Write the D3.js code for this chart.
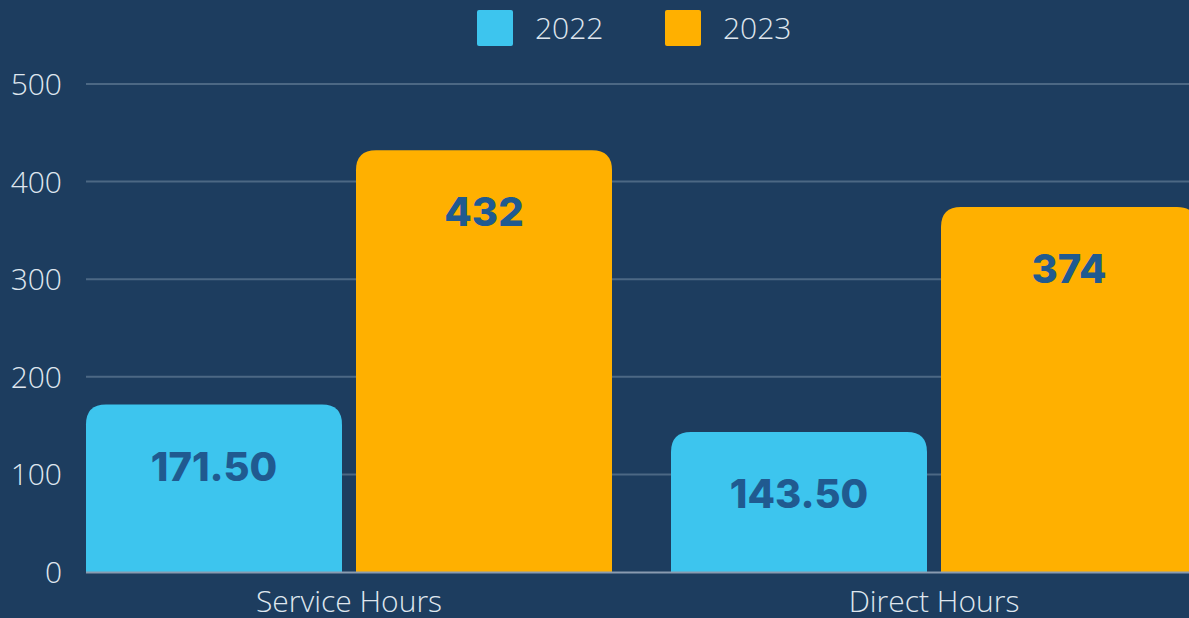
<!DOCTYPE html>
<html><head><meta charset="utf-8">
<script src="https://cdn.jsdelivr.net/npm/d3@7"></script>
<style>
html,body{margin:0;padding:0;background:#1d3d5f;overflow:hidden;}
</style></head>
<body><svg id="c" width="1189" height="618"></svg>
<script>
const categories = ["Service Hours", "Direct Hours"];
const seriesNames = ["2022", "2023"];
const values2022 = [171.5, 143.5];
const values2023 = [432, 374];
const labels2022 = ["171.50", "143.50"];
const labels2023 = ["432", "374"];
const yTicks = [0, 100, 200, 300, 400, 500];
const colors = ["#3dc5ee", "#ffb000"];

(function () {
const svg = d3.select("#c");
const W = 1189, H = 618;
svg.append("rect").attr("width", W).attr("height", H).attr("fill", "#1d3d5f");

const plotLeft = 86, plotBottom = 572, plotTop = 84;
const y = d3.scaleLinear().domain([0, 500]).range([plotBottom, plotTop]);
const x0 = d3.scaleBand().domain(categories).range([plotLeft, plotLeft + 585 + 526]).paddingInner(59 / 585).paddingOuter(0);
const x1 = d3.scaleBand().domain(seriesNames).range([0, x0.bandwidth()]).paddingInner(14 / 270);

// grid
svg.append("g").selectAll("line").data(yTicks.filter(d => d > 0)).join("line")
  .attr("x1", plotLeft).attr("x2", W).attr("y1", d => y(d)).attr("y2", d => y(d))
  .attr("stroke", "#4c6884").attr("stroke-width", 2);

// y labels
const yAxis = d3.axisLeft(y).tickValues(yTicks).tickSize(0).tickPadding(0);
const ga = svg.append("g").attr("transform", `translate(62,0)`).call(yAxis);
ga.select(".domain").remove();
ga.selectAll("text").attr("fill", "#dfe6ee").attr("font-family", "Open Sans").attr("font-weight", 300).attr("font-size", 30).attr("dy", "0.35em");

// bars
const data = [];
categories.forEach((c, i) => {
  data.push({cat: c, s: "2022", v: values2022[i], lab: labels2022[i], col: colors[0]});
  data.push({cat: c, s: "2023", v: values2023[i], lab: labels2023[i], col: colors[1]});
});
const r = 20;
function barPath(x, w, yt, yb) {
  return `M${x},${yb}V${yt + r}Q${x},${yt} ${x + r},${yt}H${x + w - r}Q${x + w},${yt} ${x + w},${yt + r}V${yb}Z`;
}
svg.append("g").selectAll("path").data(data).join("path")
  .attr("d", d => barPath(x0(d.cat) + x1(d.s), x1.bandwidth(), y(d.v), y(0)))
  .attr("fill", d => d.col);

// baseline
svg.append("line").attr("x1", plotLeft).attr("x2", W).attr("y1", y(0) + 0.5).attr("y2", y(0) + 0.5)
  .attr("stroke", "#8a9bb0").attr("stroke-width", 2);

// value labels
svg.append("g").selectAll("text").data(data).join("text")
  .attr("x", d => x0(d.cat) + x1(d.s) + x1.bandwidth() / 2)
  .attr("y", d => y(d.v) + 76)
  .attr("text-anchor", "middle")
  .attr("font-family", "Inter").attr("font-weight", 800).attr("font-size", 40)
  .attr("fill", "#205a90")
  .text(d => d.lab);

// category labels
const xAxis = d3.axisBottom(x0).tickSize(0).tickPadding(0);
const gx = svg.append("g").attr("transform", `translate(0,${plotBottom})`).call(xAxis);
gx.select(".domain").remove();
gx.selectAll("text").attr("fill", "#dfe6ee").attr("font-family", "Open Sans").attr("font-weight", 300).attr("font-size", 30).attr("dy", null).attr("y", 40);

// legend
const legX = [477, 665];
const lg = svg.append("g");
seriesNames.forEach((s, i) => {
  lg.append("rect").attr("x", legX[i]).attr("y", 10).attr("width", 36).attr("height", 36).attr("rx", 2).attr("fill", colors[i]);
  lg.append("text").attr("x", legX[i] + 58).attr("y", 28).attr("dy", "0.35em")
    .attr("font-family", "Open Sans").attr("font-weight", 300).attr("font-size", 30).attr("fill", "#dfe6ee").text(s);
});
})();
</script></body></html>
